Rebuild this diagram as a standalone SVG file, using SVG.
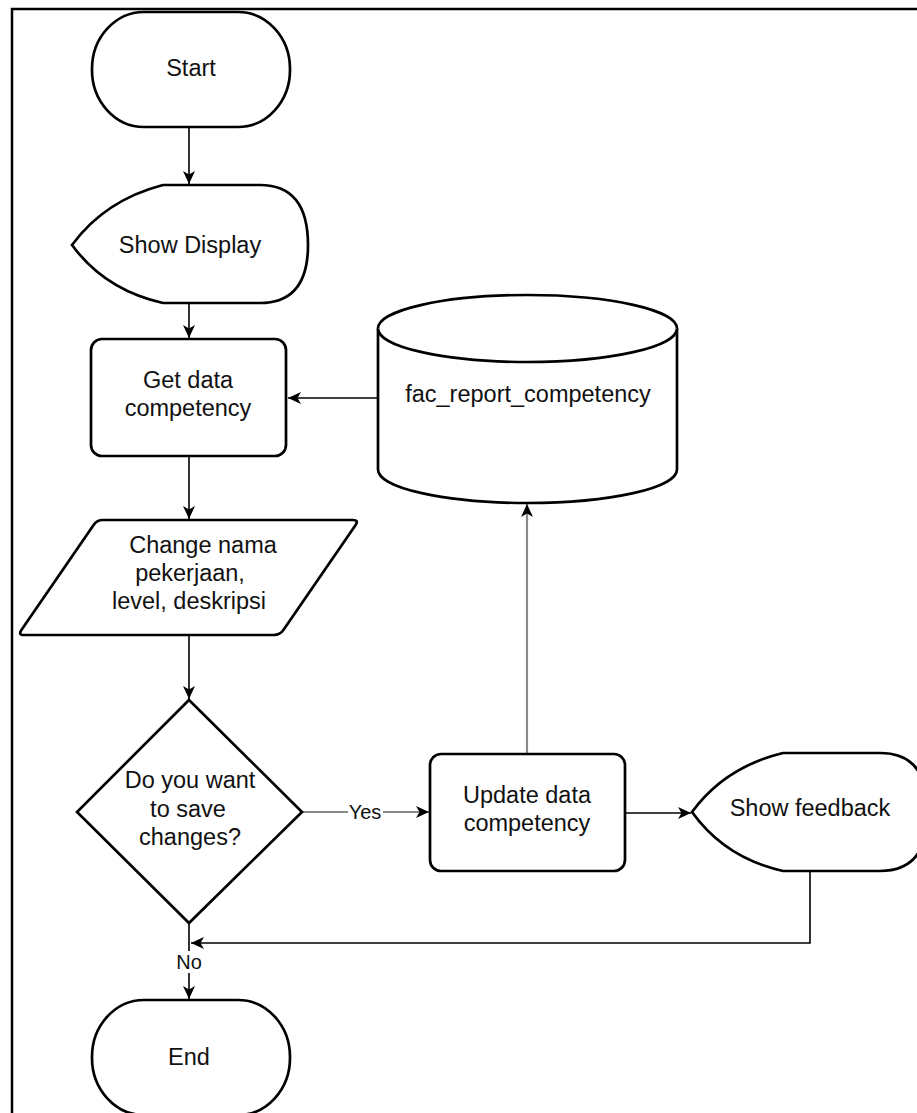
<svg xmlns="http://www.w3.org/2000/svg" width="917" height="1113" viewBox="0 0 917 1113">
<defs>
<marker id="arr" markerUnits="userSpaceOnUse" markerWidth="16" markerHeight="14" refX="14" refY="7" orient="auto">
<path d="M1,1 L14,7 L1,13 L4.5,7 Z" fill="#000"/>
</marker>
<style>
.n{fill:#fff;stroke:#000;stroke-width:2.7}
.t{font-family:"Liberation Sans",Arial,sans-serif;font-size:23.5px;fill:#111;text-anchor:middle}
.l{font-family:"Liberation Sans",Arial,sans-serif;font-size:20px;fill:#111;text-anchor:middle}
.c{fill:none;stroke:#000;stroke-width:1.6}
.g{fill:none;stroke:#8a8a8a;stroke-width:2.2}
</style>
</defs>
<rect width="917" height="1113" fill="#fff"/>
<path d="M12,1113 V9 H917" fill="none" stroke="#000" stroke-width="2.5"/>

<g id="connectors">
<path class="c" d="M189,127 V184" marker-end="url(#arr)"/>
<path class="c" d="M189,303 V338" marker-end="url(#arr)"/>
<path class="c" d="M378,398 H288" marker-end="url(#arr)"/>
<path class="c" d="M189,457 V519" marker-end="url(#arr)"/>
<path class="c" d="M189,635 V699" marker-end="url(#arr)"/>
<path class="g" d="M302,812 H429" marker-end="url(#arr)"/>
<rect x="348" y="801" width="35" height="22" fill="#fff"/>
<text class="l" x="365" y="819">Yes</text>
<path class="g" d="M527,754 V504" marker-end="url(#arr)"/>
<path class="c" d="M625,813 H691" marker-end="url(#arr)"/>
<path class="c" d="M810,871 V943 H191" marker-end="url(#arr)"/>
<path class="c" d="M189,923 V999" marker-end="url(#arr)"/>
<rect x="176" y="951" width="26" height="22" fill="#fff"/>
<text class="l" x="189" y="969">No</text>
</g>

<g id="start">
<rect class="n" x="92" y="12" width="198" height="115" rx="52" ry="57"/>
<text class="t" x="191" y="76">Start</text>
</g>

<g id="show-display">
<path class="n" d="M72,245 Q105,200 163,185 H260 Q308,185 308,245 Q308,303 260,303 H163 Q105,290 72,245 Z"/>
<text class="t" x="190" y="253">Show Display</text>
</g>

<g id="get-data">
<rect class="n" x="91" y="339" width="195" height="117" rx="11"/>
<text class="t" x="188" y="388">Get data</text>
<text class="t" x="188" y="416">competency</text>
</g>

<g id="db">
<path class="n" d="M378,328.5 A149.5,33.5 0 0 1 677,328.5 V469.5 A149.5,33.5 0 0 1 378,469.5 Z"/>
<path class="n" d="M378,328.5 A149.5,33.5 0 0 0 677,328.5" fill="none"/>
<text class="t" x="528" y="402">fac_report_competency</text>
</g>

<g id="change">
<path class="n" d="M103,520 L353,520 Q359,520 355.6,524.9 L283.4,630.1 Q280,635 274,635 L24,635 Q18,635 21.4,630.1 L93.6,524.9 Q97,520 103,520 Z"/>
<text class="t" x="203" y="553">Change nama</text>
<text class="t" x="190" y="581">pekerjaan,</text>
<text class="t" x="189" y="609">level, deskripsi</text>
</g>

<g id="decision">
<path class="n" d="M189,700 L302,812 L189,923 L77,812 Z"/>
<text class="t" x="190" y="788">Do you want</text>
<text class="t" x="188" y="817">to save</text>
<text class="t" x="190" y="845">changes?</text>
</g>

<g id="update">
<rect class="n" x="430" y="754" width="195" height="117" rx="11"/>
<text class="t" x="527" y="803">Update data</text>
<text class="t" x="527" y="831">competency</text>
</g>

<g id="show-feedback">
<path class="n" d="M692,812 Q725,767 783,753 H880 Q928,753 928,812 Q928,871 880,871 H783 Q725,858 692,812 Z"/>
<text class="t" x="810" y="816">Show feedback</text>
</g>

<g id="end">
<rect class="n" x="92" y="1000" width="198" height="115" rx="52" ry="57"/>
<text class="t" x="189" y="1065">End</text>
</g>
</svg>
